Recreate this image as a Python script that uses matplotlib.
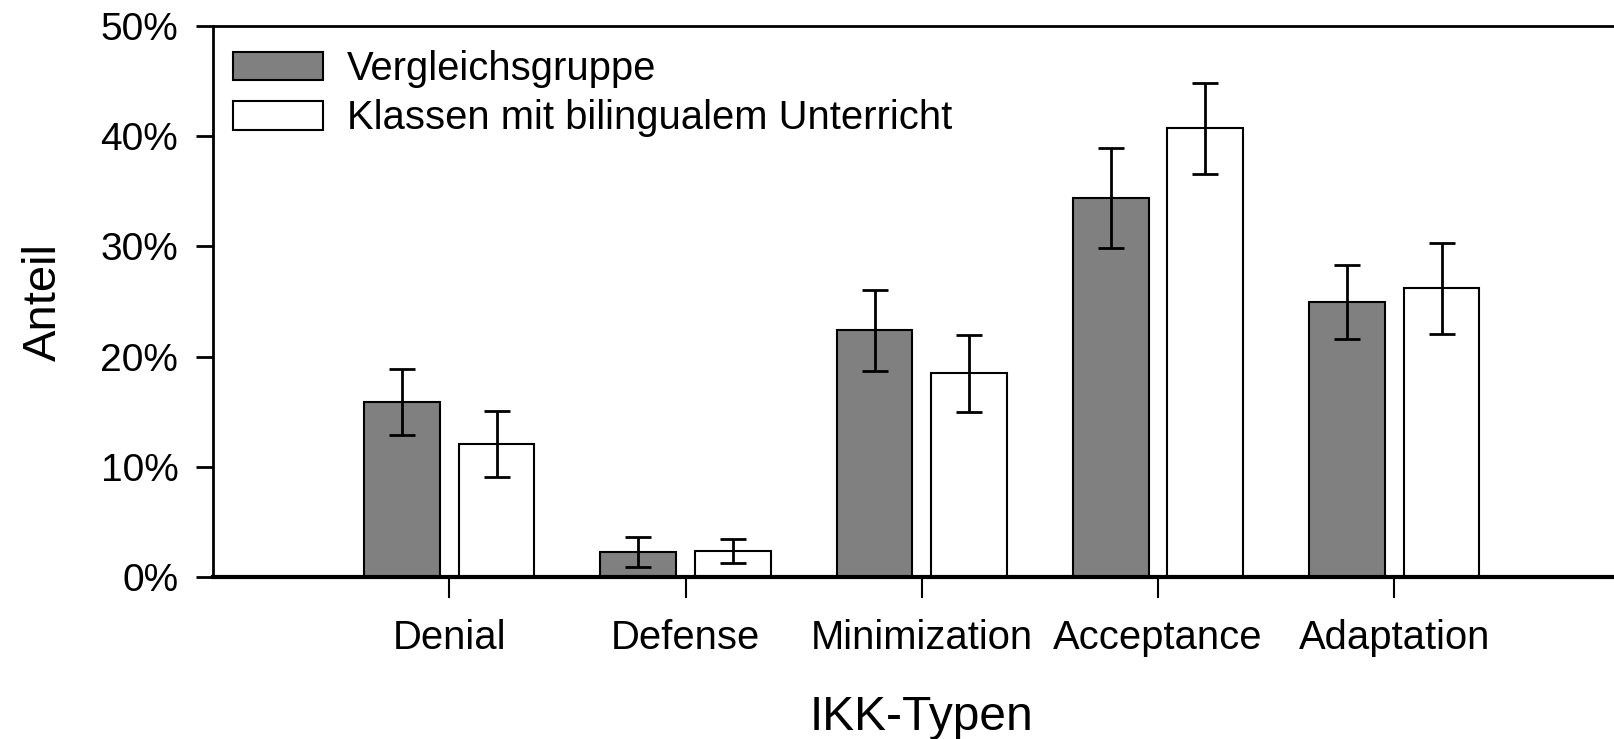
import matplotlib
matplotlib.use('Agg')
import matplotlib.pyplot as plt
import numpy as np
from matplotlib.ticker import PercentFormatter

plt.rcParams['font.family'] = ['Liberation Sans', 'DejaVu Sans']

categories = ['Denial', 'Defense', 'Minimization', 'Acceptance', 'Adaptation']
vergleich = [15.9, 2.3, 22.4, 34.4, 25.0]
vergleich_err = [3.0, 1.35, 3.65, 4.5, 3.35]
bilingual = [12.1, 2.4, 18.5, 40.7, 26.2]
bilingual_err = [3.0, 1.1, 3.5, 4.15, 4.1]
series_names = ['Vergleichsgruppe', 'Klassen mit bilingualem Unterricht']

fig = plt.figure(figsize=(16.14, 7.39), dpi=100)
ax = fig.add_axes([0.132, 0.2186, 0.868, 0.7466])

x = np.arange(len(categories))
width = 0.32
offset = 0.2
err_kw = dict(ecolor='black', elinewidth=2, capsize=9.5, capthick=2)

ax.bar(x - offset, vergleich, width, color='#808080', edgecolor='black', linewidth=1.5,
       yerr=vergleich_err, error_kw=err_kw, label=series_names[0])
ax.bar(x + offset, bilingual, width, color='white', edgecolor='black', linewidth=1.5,
       yerr=bilingual_err, error_kw=err_kw, label=series_names[1])

ax.set_xlim(-1.0, 4.93)
ax.set_ylim(0, 50)
ax.set_yticks(np.arange(0, 51, 10))
ax.yaxis.set_major_formatter(PercentFormatter(decimals=0))
ax.set_xticks(x)
ax.set_xticklabels(categories)

ax.spines['right'].set_visible(False)
ax.spines['left'].set_linewidth(2)
ax.spines['top'].set_linewidth(2)
ax.spines['bottom'].set_linewidth(3)

ax.tick_params(axis='y', direction='out', length=12, width=2, labelsize=28, pad=13)
ax.tick_params(axis='x', direction='out', length=15, width=1.5, labelsize=28.8, pad=15)

ax.set_ylabel('Anteil', fontsize=34, labelpad=25)
ax.set_xlabel('IKK-Typen', fontsize=34.5, labelpad=27)
ax.xaxis.label.set_x(0.506)

ax.legend(loc='upper left', frameon=False, fontsize=28.8, handlelength=2.25,
          handleheight=0.72, borderaxespad=0.1, handletextpad=0.6,
          labelspacing=0.28, bbox_to_anchor=(0.0, 0.992))

fig.savefig('out.png', dpi=100)
